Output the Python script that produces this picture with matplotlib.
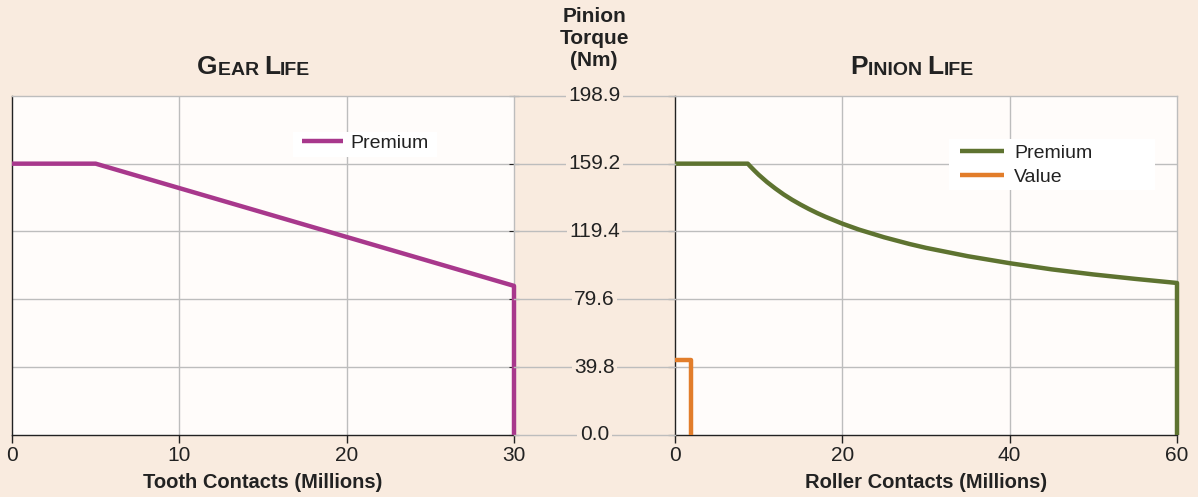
import matplotlib.pyplot as plt
from matplotlib.patches import Rectangle

# torque ticks (Nm)
torque_ticks = [0.0, 39.8, 79.6, 119.4, 159.2, 198.9]

# gear life, premium
gear_contacts = [0, 5, 30, 30]
gear_torque = [159.2, 159.2, 87.5, 0]

# pinion life, premium
pin_contacts = [0, 8.7, 9, 9.5, 10, 11, 12, 13, 14, 15, 16, 17, 18, 20, 22, 25,
                28, 30, 35, 40, 45, 50, 55, 60, 60]
pin_torque = [159.2, 159.2, 157.6, 155.1, 152.7, 148.4, 144.6, 141.1, 138.0,
              135.2, 132.6, 130.2, 128.0, 124.0, 120.5, 116.0, 112.1, 109.8,
              104.9, 100.8, 97.2, 94.2, 91.6, 89.2, 0]

# pinion life, value
val_contacts = [0, 1.9, 1.9]
val_torque = [44.0, 44.0, 0]

bg = '#f9ebdf'
face = '#fffcfa'
grid_c = '#bdbdbd'
ink = '#222222'
purple = '#a8388c'
green = '#5e7330'
orange = '#e27d2a'

plt.rcParams['font.family'] = ['Liberation Sans', 'DejaVu Sans']

W, H = 1198, 497
fig = plt.figure(figsize=(W / 100, H / 100), dpi=100, facecolor=bg)

bot = 1 - 435 / H
hgt = 339 / H
ax1 = fig.add_axes([12 / W, bot, 502 / W, hgt], facecolor=face)
ax2 = fig.add_axes([675 / W, bot, 502 / W, hgt], facecolor=face)
mid = fig.add_axes([514 / W, bot, 161 / W, hgt], facecolor='none')

for ax, xmax, xt in [(ax1, 30, [0, 10, 20, 30]), (ax2, 60, [0, 20, 40, 60])]:
    ax.set_xlim(0, xmax)
    ax.set_ylim(0, 198.9)
    ax.set_xticks(xt)
    ax.set_yticks(torque_ticks)
    ax.set_yticklabels([])
    ax.tick_params(axis='x', direction='out', length=6, width=1, labelsize=15,
                   color=ink, labelcolor=ink, pad=2)
    for v in xt[1:-1]:
        ax.axvline(v, color=grid_c, lw=1, zorder=1)
    for v in torque_ticks[1:-1]:
        ax.axhline(v, color=grid_c, lw=1, zorder=1)
    ax.spines['left'].set_color(ink)
    ax.spines['bottom'].set_color(ink)
    ax.spines['top'].set_color(grid_c)
    ax.spines['right'].set_color(grid_c)
    for s in ax.spines.values():
        s.set_linewidth(1)

ax1.tick_params(axis='y', left=False, right=True, direction='inout', length=7,
                color=ink)
ax2.tick_params(axis='y', left=True, direction='out', length=5, color=ink)

ax1.plot(gear_contacts, gear_torque, color=purple, lw=3.2, zorder=4,
         label='Premium', clip_on=False, solid_capstyle='butt')
ax2.plot(pin_contacts, pin_torque, color=green, lw=3.2, zorder=4,
         label='Premium', clip_on=False, solid_capstyle='butt')
ax2.plot(val_contacts, val_torque, color=orange, lw=3.2, zorder=4,
         label='Value', clip_on=False, solid_capstyle='butt')

ax1.set_xlabel('Tooth Contacts (Millions)', fontsize=14.5, fontweight='bold',
               labelpad=6, color=ink)
ax2.set_xlabel('Roller Contacts (Millions)', fontsize=14.5, fontweight='bold',
               labelpad=6, color=ink)

# legend boxes
ax1.add_patch(Rectangle((0.560, 0.820), 0.287, 0.074, transform=ax1.transAxes,
                        fc='white', ec='none', zorder=3))
ax2.add_patch(Rectangle((0.546, 0.723), 0.410, 0.150, transform=ax2.transAxes,
                        fc='white', ec='none', zorder=3))
leg1 = ax1.legend(loc='center left', bbox_to_anchor=(0.578, 0.861), frameon=False,
                  fontsize=14, handlelength=2.1, handletextpad=0.36, borderpad=0,
                  borderaxespad=0)
leg2 = ax2.legend(loc='center left', bbox_to_anchor=(0.568, 0.796), frameon=False,
                  fontsize=14, handlelength=2.27, handletextpad=0.5, borderpad=0,
                  borderaxespad=0, labelspacing=0.3)
for leg in (leg1, leg2):
    leg.set_zorder(5)
    for t in leg.get_texts():
        t.set_color(ink)

# middle torque scale
mid.set_xlim(0, 1)
mid.set_ylim(0, 198.9)
mid.axis('off')
for v in torque_ticks:
    mid.plot([0, 1], [v, v], color=grid_c, lw=1, clip_on=False, zorder=1)
    mid.text(0.5, v, f'{v:.1f}', ha='center', va='center', fontsize=15,
             color=ink, zorder=2,
             bbox=dict(boxstyle='square,pad=0.12', fc=bg, ec='none'))

fig.text(594 / W, 1 - 38 / H, 'Pinion\nTorque\n(Nm)', ha='center', va='center',
         fontsize=15, fontweight='bold', linespacing=1.2, color=ink)


def caps_title(x, y, pieces):
    prev = fig.text(x, y, pieces[0][0], fontsize=pieces[0][1], fontweight='bold',
                    ha='left', va='baseline', color=ink)
    for txt, fs in pieces[1:]:
        prev = ax1.annotate(txt, xy=(1, 0), xycoords=prev, fontsize=fs,
                            fontweight='bold', color=ink, ha='left',
                            va='bottom', annotation_clip=False)


caps_title(197 / W, 1 - 74 / H, [('G', 19), ('EAR ', 14), ('L', 19), ('IFE', 14)])
caps_title(850 / W, 1 - 74 / H, [('P', 19), ('INION ', 14), ('L', 19), ('IFE', 14)])

fig.savefig('out.png', dpi=100, facecolor=bg)
